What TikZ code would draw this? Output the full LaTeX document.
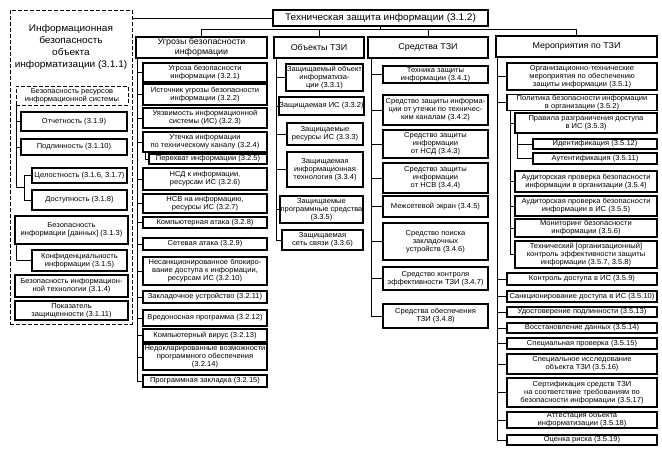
\documentclass[tikz,border=0pt]{standalone}
\usepackage{fontspec}
\setmainfont{Liberation Sans}[FakeStretch=1.05]
\usetikzlibrary{calc}
\newcommand{\mybox}[7][]{%
 \pgfmathsetmacro\mbw{#5-#3}%
 \pgfmathsetmacro\mbh{#6-#4}%
 \pgfmathsetmacro\mbx{(#3+#5)/2}%
 \pgfmathsetmacro\mby{(#4+#6)/2}%
 \node[box,minimum width=\mbw pt,minimum height=\mbh pt,#1] (#2) at (\mbx,\mby) {#7};}
\newcommand{\tick}[2]{\draw[conn] (#1 |- #2.west) -- (#2.west);}
\begin{document}
\begin{tikzpicture}[x=1pt,y=-1pt,
 box/.style={draw=black, line width=1.1pt, inner sep=0.4pt, align=center, font=\fontsize{7.2}{8}\selectfont},
 dbox/.style={dash pattern=on 4pt off 2pt, line width=0.9pt},
 head/.style={font=\fontsize{8.5}{10}\selectfont},
 conn/.style={draw=black, line width=0.8pt}]
\useasboundingbox (0,0) rectangle (662,450);
% left column
\mybox[dbox]{L}{10}{10}{132}{324}{}
\node[align=center, font=\fontsize{9.6}{12.3}\selectfont] (LT) at (71,47) {Информационная\\безопасность\\объекта\\информатизации (3.1.1)};
\mybox[dbox]{R}{16}{86}{128}{105}{Безопасность ресурсов\\информационной системы}
\mybox{l19}{21}{112}{127}{131}{Отчетность (3.1.9)}
\mybox{l110}{21}{139}{127}{155}{Подлинность (3.1.10)}
\mybox{l16}{32}{168}{127}{183}{Целостность (3.1.6, 3.1.7)}
\mybox{l18}{32}{190}{127}{210}{Доступность (3.1.8)}
\mybox{l13}{15}{216}{128}{244}{Безопасность\\информации [данных] (3.1.3)}
\mybox{l15}{32}{250}{127}{271}{Конфиденциальность\\информации (3.1.5)}
\mybox{l14}{15}{275}{128}{297}{Безопасность информацион-\\ной технологии (3.1.4)}
\mybox{l111}{15}{301}{128}{320}{Показатель\\защищенности (3.1.11)}
\coordinate (bR) at ([xshift=1pt]R.south west);
\draw[conn] (l16.west) -- ++(-7,0) coordinate (q1) -- (q1 |- l18.west) -- (l18.west);
\draw[conn] (bR) |- ($(q1)!0.5!(q1 |- l18.west)$);
\tick{bR}{l19}
\tick{bR}{l110}
\coordinate (b13) at ([xshift=2pt]l13.south west);
\draw[conn] (b13) |- (l15.west);
% title
\mybox[head,font=\fontsize{9.6}{11}\selectfont]{T}{273}{10}{488}{26}{Техническая защита информации (3.1.2)}
\draw[conn] (T.west) -- (T.west -| L.east);
% headings
\mybox[head]{H2}{136}{37}{267}{58}{Угрозы безопасности\\информации}
\mybox[head]{H3}{274}{37}{364}{58}{Объекты ТЗИ}
\mybox[head]{H4}{368}{37}{488}{58}{Средства ТЗИ}
\mybox[head]{H5}{496}{36}{657}{57}{Мероприятия по ТЗИ}
\coordinate (tb) at (380,29);
\draw[conn] (T.south) -- (T.south |- tb);
\draw[conn] (H2.north) -- (H2.north |- tb) -- (H5.north |- tb) -- (H5.north);
\draw[conn] (H3.north) -- (H3.north |- tb);
\draw[conn] (H4.north) -- (H4.north |- tb);
% column 2
\mybox{c21}{143}{63}{267}{82}{Угроза безопасности\\информации (3.2.1)}
\mybox{c22}{143}{84}{267}{105}{Источник угрозы безопасности\\информации (3.2.2)}
\mybox{c23}{143}{108}{267}{128}{Уязвимость информационной\\системы (ИС) (3.2.3)}
\mybox{c24}{143}{132}{267}{152}{Утечка информации\\по техническому каналу (3.2.4)}
\mybox{c25}{149}{154}{267}{164}{Перехват информации (3.2.5)}
\mybox{c26}{143}{168}{267}{190}{НСД к информации,\\ресурсам ИС (3.2.6)}
\mybox{c27}{143}{194}{267}{213}{НСВ на информацию,\\ресурсы ИС (3.2.7)}
\mybox{c28}{143}{217}{267}{228}{Компьютерная атака (3.2.8)}
\mybox{c29}{143}{238}{267}{250}{Сетевая атака (3.2.9)}
\mybox{c210}{143}{257}{267}{285}{Несанкционированное блокиро-\\вание доступа к информации,\\ресурсам ИС (3.2.10)}
\mybox{c211}{143}{291}{267}{303}{Закладочное устройство (3.2.11)}
\mybox{c212}{143}{310}{267}{326}{Вредоносная программа (3.2.12)}
\mybox{c213}{143}{329}{267}{342}{Компьютерный вирус (3.2.13)}
\mybox{c214}{143}{344}{267}{370}{Недокларированные возможности\\программного обеспечения\\(3.2.14)}
\mybox{c215}{143}{375}{267}{387}{Программная закладка (3.2.15)}
\coordinate (b2) at ([xshift=2pt]H2.south west);
\draw[conn] (b2) -- (b2 |- c215.west);
\foreach \n in {c21,c22,c23,c24,c26,c27,c28,c29,c210,c211,c212,c213,c214,c215}{\tick{b2}{\n}}
\coordinate (b25) at ([xshift=3pt]c24.south west);
\draw[conn] (b25) |- (c25.west);
% column 3
\mybox{c31}{286}{64}{363}{91}{Защищаемый объект\\информатиза-\\ции (3.3.1)}
\mybox{c32}{280}{97}{363}{115}{Защищаемая ИС (3.3.2)}
\mybox{c33}{287}{123}{363}{145}{Защищаемые\\ресурсы ИС (3.3.3)}
\mybox{c34}{287}{152}{363}{187}{Защищаемая\\информационная\\технология (3.3.4)}
\mybox{c35}{280}{196}{363}{223}{Защищаемые\\программные средства\\(3.3.5)}
\mybox{c36}{282}{230}{363}{250}{Защищаемая\\сеть связи (3.3.6)}
\coordinate (b3) at ([xshift=3pt]H3.south west);
\draw[conn] (b3) -- (b3 |- c36.west);
\foreach \n in {c31,c32,c33,c34,c35,c36}{\tick{b3}{\n}}
% column 4
\mybox{c41}{383}{66}{488}{83}{Техника защиты\\информации (3.4.1)}
\mybox{c42}{383}{95}{488}{125}{Средство защиты информа-\\ции от утечки по техничес-\\ким каналам (3.4.2)}
\mybox{c43}{383}{130}{488}{158}{Средство защиты\\информации\\от НСД (3.4.3)}
\mybox{c44}{383}{163}{488}{193}{Средство защиты\\информации\\от НСВ (3.4.4)}
\mybox{c45}{383}{196}{488}{217}{Межсетевой экран (3.4.5)}
\mybox{c46}{383}{223}{488}{260}{Средство поиска\\закладочных\\устройств (3.4.6)}
\mybox{c47}{383}{267}{488}{290}{Средство контроля\\эффективности ТЗИ (3.4.7)}
\mybox{c48}{383}{304}{488}{328}{Средства обеспечения\\ТЗИ (3.4.8)}
\coordinate (b4) at ([xshift=4pt]H4.south west);
\draw[conn] (b4) -- (b4 |- c48.west);
\foreach \n in {c41,c42,c43,c44,c45,c46,c47,c48}{\tick{b4}{\n}}
% column 5
\mybox{c51}{507}{63}{657}{90}{Организационно-технические\\мероприятия по обеспечению\\защиты информации (3.5.1)}
\mybox{c52}{507}{95}{657}{110}{Политика безопасности информации\\в организации (3.5.2)}
\mybox{c53}{515}{113}{657}{133}{Правила разграничения доступа\\в ИС (3.5.3)}
\mybox{c512}{533}{139}{657}{149}{Идентификация (3.5.12)}
\mybox{c511}{533}{153}{657}{164}{Аутентификация (3.5.11)}
\mybox{c54}{515}{171}{657}{192}{Аудиторская проверка безопасности\\информации в организации (3.5.4)}
\mybox{c55}{515}{196}{657}{216}{Аудиторская проверка безопасности\\информации в ИС (3.5.5)}
\mybox{c56}{515}{219}{657}{237}{Мониторинг безопасности\\информации (3.5.6)}
\mybox{c57}{515}{241}{657}{268}{Технический [организационный]\\контроль эффективности защиты\\информации (3.5.7, 3.5.8)}
\mybox{c59}{507}{273}{657}{285}{Контроль доступа в ИС (3.5.9)}
\mybox{c510}{507}{291}{657}{302}{Санкционирование доступа в ИС (3.5.10)}
\mybox{c513}{507}{307}{657}{317}{Удостоверение подлинности (3.5.13)}
\mybox{c514}{507}{323}{657}{333}{Восстановление данных (3.5.14)}
\mybox{c515}{507}{338}{657}{349}{Специальная проверка (3.5.15)}
\mybox{c516}{507}{354}{657}{374}{Специальное исследование\\объекта ТЗИ (3.5.16)}
\mybox{c517}{507}{378}{657}{407}{Сертификация средств ТЗИ\\на соответствие требованиям по\\безопасности информации (3.5.17)}
\mybox{c518}{507}{412}{657}{428}{Аттестация объекта\\информатизации (3.5.18)}
\mybox{c519}{507}{435}{657}{445}{Оценка риска (3.5.19)}
\coordinate (b5) at ([xshift=2pt]H5.south west);
\draw[conn] (b5) -- (b5 |- c519.west);
\foreach \n in {c51,c52,c59,c510,c513,c514,c515,c516,c517,c518,c519}{\tick{b5}{\n}}
\coordinate (b52) at ([xshift=4pt]c52.south west);
\draw[conn] (b52) -- (b52 |- c57.west);
\foreach \n in {c53,c54,c55,c56,c57}{\tick{b52}{\n}}
\coordinate (b53) at ([xshift=3pt]c53.south west);
\draw[conn] (b53) -- (b53 |- c511.west);
\foreach \n in {c512,c511}{\tick{b53}{\n}}
\end{tikzpicture}
\end{document}
